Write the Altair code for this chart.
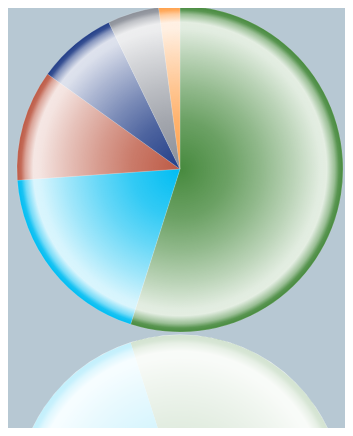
import math
import altair as alt
import pandas as pd

# ---- data ----
categories = ["Slice 1", "Slice 2", "Slice 3", "Slice 4", "Slice 5", "Slice 6"]
values = [54.9, 19.0, 11.0, 7.9, 5.1, 2.1]
colors = ["#478a3e", "#00bdf2", "#bd5a45", "#213d87", "#8b8f98", "#ffa04a"]

df = pd.DataFrame({"cat": categories, "value": values, "idx": list(range(len(values)))})

BG = "#b7c8d3"
R = 163
W, H = 337, 420
CX = 172
CY_TOP = 161
CY_REF = 490

color_enc = alt.Color("cat:N", scale=alt.Scale(domain=categories, range=colors), legend=None)

# glossy radial overlay (white with varying alpha)
stops_alpha = [(0.0, 0.0), (0.3, 0.2), (0.5, 0.4), (0.7, 0.63), (0.86, 0.84),
               (0.9, 0.85), (0.95, 0.45), (0.975, 0.1), (1.0, 0.0)]
gloss = {
    "gradient": "radial",
    "x1": 0.5, "y1": 0.5, "x2": 0.5, "y2": 0.5, "r1": 0, "r2": 0.5,
    "stops": [{"offset": o, "color": f"rgba(255,255,255,{a})"} for o, a in stops_alpha],
}

one = pd.DataFrame({"k": [0]})

pie = alt.Chart(df).mark_arc(radius=R, stroke="white", strokeWidth=0.5, strokeOpacity=0.3).encode(
    theta=alt.Theta("value:Q", stack=True, scale=alt.Scale(range=[0, 2 * math.pi])),
    order=alt.Order("idx:Q"),
    color=color_enc,
    x=alt.value(CX),
    y=alt.value(CY_TOP),
)

overlay = alt.Chart(one).mark_arc(radius=R, theta=0, theta2=2 * math.pi, fill=gloss).encode(
    x=alt.value(CX), y=alt.value(CY_TOP)
)

refl = alt.Chart(df).mark_arc(radius=R, clip=True).encode(
    theta=alt.Theta("value:Q", stack=True, scale=alt.Scale(range=[math.pi, -math.pi])),
    order=alt.Order("idx:Q"),
    color=color_enc,
    x=alt.value(CX),
    y=alt.value(CY_REF),
)

refl_overlay = alt.Chart(one).mark_arc(radius=R, theta=0, theta2=2 * math.pi, fill=gloss, clip=True).encode(
    x=alt.value(CX), y=alt.value(CY_REF)
)

refl_white = alt.Chart(one).mark_arc(radius=R + 0.5, theta=0, theta2=2 * math.pi, fill="white",
                                     fillOpacity=0.76, clip=True).encode(
    x=alt.value(CX), y=alt.value(CY_REF)
)

chart = alt.layer(refl, refl_overlay, refl_white, pie, overlay).resolve_scale(
    theta="independent"
).properties(
    width=W, height=H, padding=0, background=BG,
    autosize=alt.AutoSizeParams(type="none"),
).configure_view(stroke=None)

chart.save("out.html", embed_options={"renderer": "svg", "actions": False})
